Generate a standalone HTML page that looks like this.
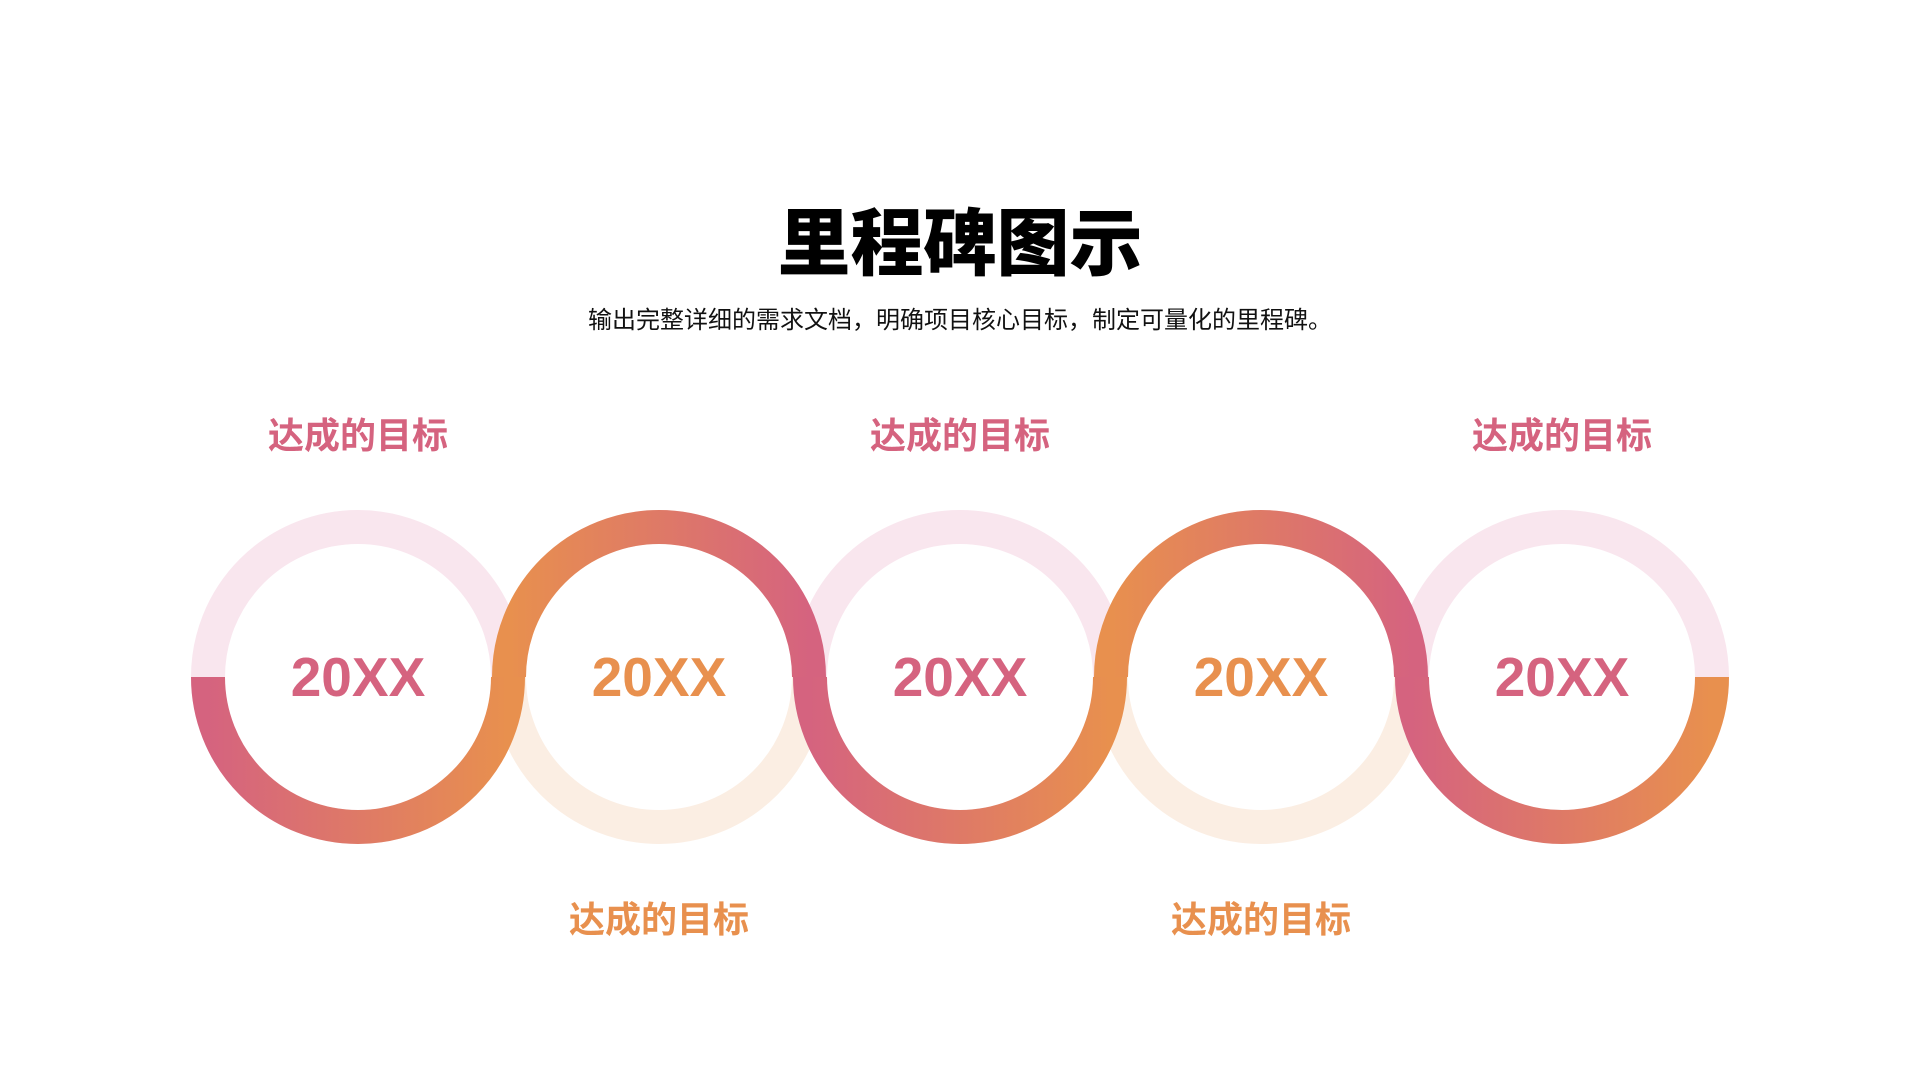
<!DOCTYPE html>
<html><head><meta charset="utf-8"><style>
html,body{margin:0;padding:0;background:#fff;}
body{width:1920px;height:1080px;position:relative;overflow:hidden;font-family:"Liberation Sans","Noto Sans CJK SC",sans-serif;}
.t{position:absolute;left:0;width:1920px;text-align:center;}
</style></head><body>
<div class="t" style="top:200px;font-size:73px;font-weight:900;color:#000;line-height:90px;">里程碑图示</div>
<div class="t" style="top:305px;font-size:24px;color:#111;line-height:32px;">输出完整详细的需求文档，明确项目核心目标，制定可量化的里程碑。</div>
<svg width="1920" height="1080" style="position:absolute;left:0;top:0">
<defs>
<linearGradient id="po" gradientUnits="objectBoundingBox" x1="0" y1="0" x2="1" y2="0"><stop offset="0" stop-color="#D5637F"/><stop offset="1" stop-color="#E8904E"/></linearGradient>
<linearGradient id="op" gradientUnits="objectBoundingBox" x1="0" y1="0" x2="1" y2="0"><stop offset="0" stop-color="#E8904E"/><stop offset="1" stop-color="#D5637F"/></linearGradient>
</defs>
<g fill="none" stroke-width="34">
<circle cx="358" cy="677" r="150" stroke="#F9E6EE"/>
<circle cx="659" cy="677" r="150" stroke="#FBEEE3"/>
<circle cx="960" cy="677" r="150" stroke="#F9E6EE"/>
<circle cx="1261" cy="677" r="150" stroke="#FBEEE3"/>
<circle cx="1562" cy="677" r="150" stroke="#F9E6EE"/>
<path d="M208 677 A150 150 0 0 0 508 677" stroke="url(#po)"/>
<path d="M509 677 A150 150 0 0 1 809 677" stroke="url(#op)"/>
<path d="M810 677 A150 150 0 0 0 1110 677" stroke="url(#po)"/>
<path d="M1111 677 A150 150 0 0 1 1411 677" stroke="url(#op)"/>
<path d="M1412 677 A150 150 0 0 0 1712 677" stroke="url(#po)"/>
</g>
<g font-family="Liberation Sans, sans-serif" font-weight="bold" font-size="55" text-anchor="middle">
<text x="358" y="696" fill="#D5637F">20XX</text>
<text x="659" y="696" fill="#E8904E">20XX</text>
<text x="960" y="696" fill="#D5637F">20XX</text>
<text x="1261" y="696" fill="#E8904E">20XX</text>
<text x="1562" y="696" fill="#D5637F">20XX</text>
</g>
<g font-family="Liberation Sans, Noto Sans CJK SC, sans-serif" font-weight="bold" font-size="36" text-anchor="middle">
<text x="358" y="448" fill="#D5637F">达成的目标</text>
<text x="960" y="448" fill="#D5637F">达成的目标</text>
<text x="1562" y="448" fill="#D5637F">达成的目标</text>
<text x="659" y="932" fill="#E8904E">达成的目标</text>
<text x="1261" y="932" fill="#E8904E">达成的目标</text>
</g>
</svg>
</body></html>
